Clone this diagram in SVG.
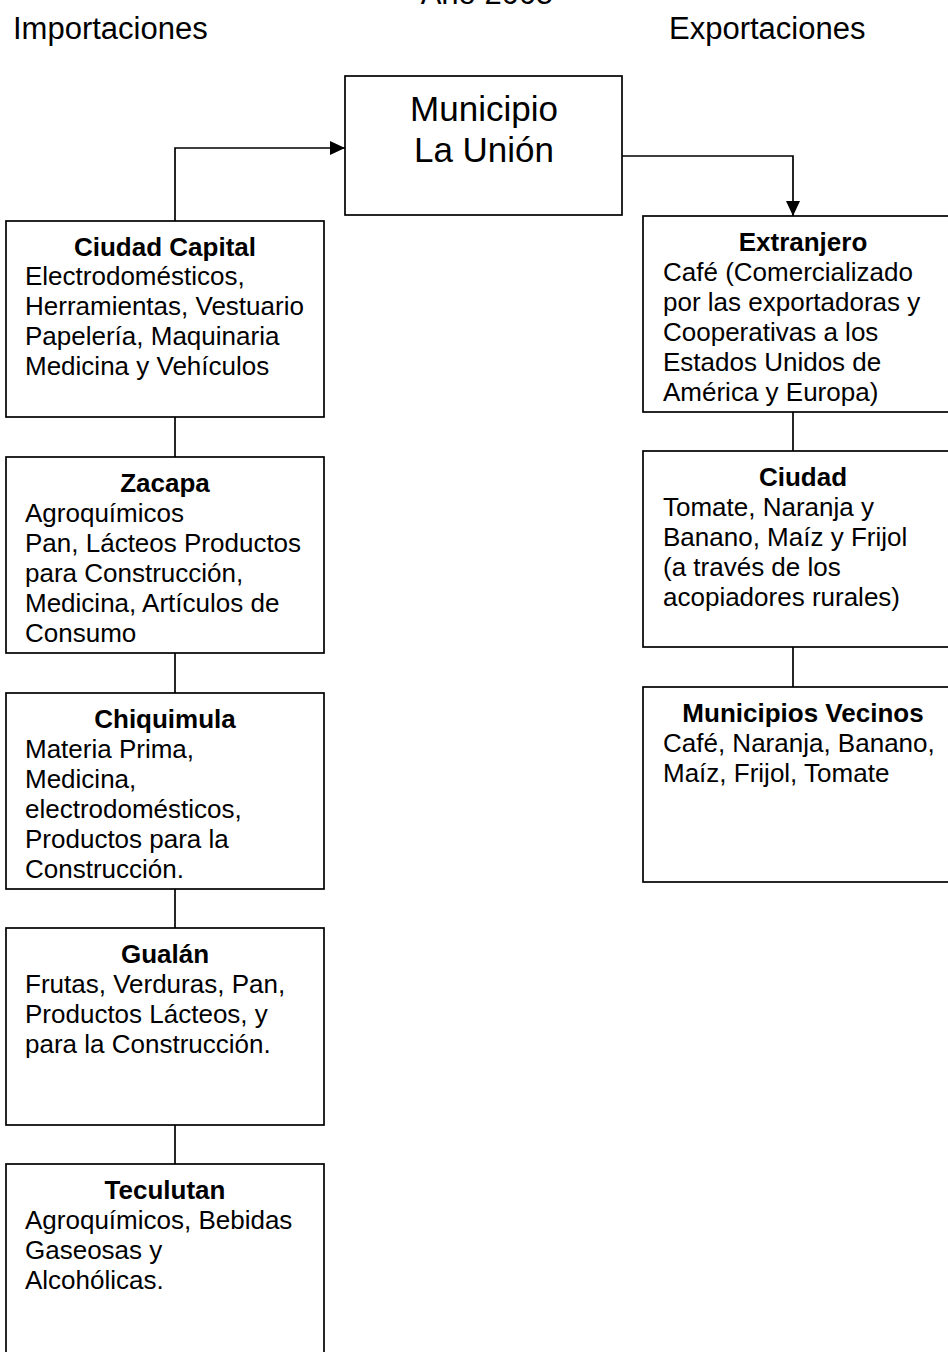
<svg xmlns="http://www.w3.org/2000/svg" width="948" height="1352" viewBox="0 0 948 1352">
<style>
text{font-family:"Liberation Sans",Arial,sans-serif;fill:#000}
.h{font-size:31px}
.b{font-size:26px}
.t{font-size:26px;font-weight:bold;text-anchor:middle}
.m{font-size:35px;text-anchor:middle}
.box{fill:#fff;stroke:#000;stroke-width:1.7}
.c{fill:none;stroke:#000;stroke-width:1.7}
</style>
<defs>
<marker id="arr" markerWidth="15" markerHeight="14" refX="15" refY="7" orient="auto" markerUnits="userSpaceOnUse">
<path d="M0,0 L15,7 L0,14 Z" fill="#000"/>
</marker>
</defs>
<rect width="948" height="1352" fill="#fff"/>
<g id="headers">
<text class="h" x="487" y="4" text-anchor="middle">Año 2005</text>
<text class="h" x="13" y="39">Importaciones</text>
<text class="h" x="669" y="39">Exportaciones</text>
</g>
<g id="connectors">
<path class="c" d="M175,221 V148 H345" marker-end="url(#arr)"/>
<path class="c" d="M622,156 H793 V216" marker-end="url(#arr)"/>
<path class="c" d="M175,417 V457"/>
<path class="c" d="M175,653 V693"/>
<path class="c" d="M175,889 V928"/>
<path class="c" d="M175,1125 V1164"/>
<path class="c" d="M793,412 V451"/>
<path class="c" d="M793,647 V687"/>
</g>
<g id="municipio">
<rect class="box" x="345" y="76" width="277" height="139"/>
<text class="m" x="484" y="120.5">Municipio</text>
<text class="m" x="484" y="162">La Unión</text>
</g>
<g id="ciudad-capital">
<rect class="box" x="6" y="221" width="318" height="196"/>
<text class="t" x="165" y="256">Ciudad Capital</text>
<text class="b" x="25" y="285">Electrodomésticos,</text>
<text class="b" x="25" y="315">Herramientas, Vestuario</text>
<text class="b" x="25" y="345">Papelería, Maquinaria</text>
<text class="b" x="25" y="375">Medicina y Vehículos</text>
</g>
<g id="zacapa">
<rect class="box" x="6" y="457" width="318" height="196"/>
<text class="t" x="165" y="492">Zacapa</text>
<text class="b" x="25" y="522">Agroquímicos</text>
<text class="b" x="25" y="552">Pan, Lácteos Productos</text>
<text class="b" x="25" y="582">para Construcción,</text>
<text class="b" x="25" y="612">Medicina, Artículos de</text>
<text class="b" x="25" y="642">Consumo</text>
</g>
<g id="chiquimula">
<rect class="box" x="6" y="693" width="318" height="196"/>
<text class="t" x="165" y="728">Chiquimula</text>
<text class="b" x="25" y="758">Materia Prima,</text>
<text class="b" x="25" y="788">Medicina,</text>
<text class="b" x="25" y="818">electrodomésticos,</text>
<text class="b" x="25" y="848">Productos para la</text>
<text class="b" x="25" y="878">Construcción.</text>
</g>
<g id="gualan">
<rect class="box" x="6" y="928" width="318" height="197"/>
<text class="t" x="165" y="963">Gualán</text>
<text class="b" x="25" y="993">Frutas, Verduras, Pan,</text>
<text class="b" x="25" y="1023">Productos Lácteos, y</text>
<text class="b" x="25" y="1053">para la Construcción.</text>
</g>
<g id="teculutan">
<rect class="box" x="6" y="1164" width="318" height="200"/>
<text class="t" x="165" y="1199">Teculutan</text>
<text class="b" x="25" y="1229">Agroquímicos, Bebidas</text>
<text class="b" x="25" y="1259">Gaseosas y</text>
<text class="b" x="25" y="1289">Alcohólicas.</text>
</g>
<g id="extranjero">
<rect class="box" x="643" y="216" width="320" height="196"/>
<text class="t" x="803" y="251">Extranjero</text>
<text class="b" x="663" y="281">Café (Comercializado</text>
<text class="b" x="663" y="311">por las exportadoras y</text>
<text class="b" x="663" y="341">Cooperativas a los</text>
<text class="b" x="663" y="371">Estados Unidos de</text>
<text class="b" x="663" y="401">América y Europa)</text>
</g>
<g id="ciudad">
<rect class="box" x="643" y="451" width="320" height="196"/>
<text class="t" x="803" y="486">Ciudad</text>
<text class="b" x="663" y="516">Tomate, Naranja y</text>
<text class="b" x="663" y="546">Banano, Maíz y Frijol</text>
<text class="b" x="663" y="576">(a través de los</text>
<text class="b" x="663" y="606">acopiadores rurales)</text>
</g>
<g id="municipios-vecinos">
<rect class="box" x="643" y="687" width="320" height="195"/>
<text class="t" x="803" y="722">Municipios Vecinos</text>
<text class="b" x="663" y="752">Café, Naranja, Banano,</text>
<text class="b" x="663" y="782">Maíz, Frijol, Tomate</text>
</g>
</svg>
